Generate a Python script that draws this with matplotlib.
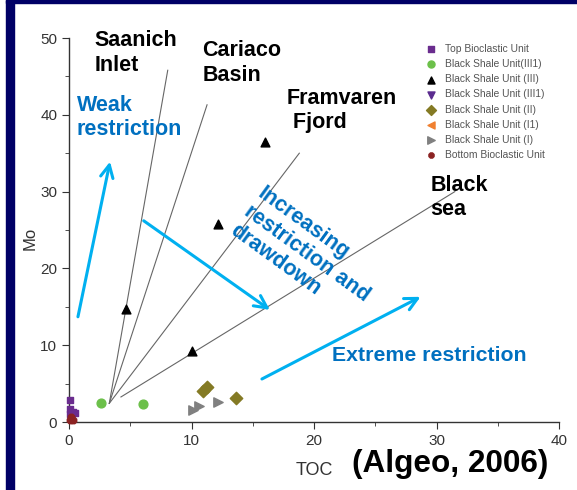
import matplotlib.pyplot as plt
from matplotlib.patches import Rectangle

plt.rcParams["font.family"] = ["Liberation Sans", "DejaVu Sans"]

# TOC (wt%) and Mo (ppm) by unit
top_bio_toc = [0.1, 0.1, 0.3, 0.5, 0.1]
top_bio_mo = [2.8, 1.7, 1.3, 1.2, 1.0]
bs_iii1_toc = [2.6, 6.0]
bs_iii1_mo = [2.5, 2.3]
bs_iii_toc = [4.65, 10.0, 12.2, 16.0]
bs_iii_mo = [14.7, 9.2, 25.8, 36.5]
bs_ii_toc = [10.9, 11.3, 13.6]
bs_ii_mo = [4.0, 4.6, 3.1]
bs_i_toc = [10.1, 10.6, 12.2]
bs_i_mo = [1.5, 2.1, 2.6]
bottom_bio_toc = [0.2, 0.3, 0.1]
bottom_bio_mo = [0.6, 0.2, 0.3]

# Mo/TOC reference trends for modern anoxic basins (start, end)
basin_names = ["Saanich\nInlet", "Cariaco\nBasin", "Framvaren\n Fjord", "Black\nsea"]
basin_x0 = [3.29, 3.29, 3.29, 4.24]
basin_y0 = [2.43, 2.43, 2.43, 3.26]
basin_x1 = [8.06, 11.27, 18.8, 31.5]
basin_y1 = [45.8, 41.3, 35.0, 30.0]
basin_label_x = [2.1, 10.9, 17.8, 29.5]
basin_label_y = [51.0, 49.7, 43.5, 32.2]

fig = plt.figure(figsize=(5.77, 4.90), dpi=100)
fig.patch.set_facecolor("white")
navy = "#000066"
fig.add_artist(Rectangle((6 / 577, 0), 8 / 577, 1, transform=fig.transFigure,
                         color=navy, zorder=0))
fig.add_artist(Rectangle((6 / 577, 487 / 490), 571 / 577, 3 / 490,
                         transform=fig.transFigure, color=navy, zorder=0))

ax = fig.add_axes([69 / 577, 68 / 490, 490 / 577, 384 / 490])
ax.set_xlim(0, 40)
ax.set_ylim(0, 50)
for s in ["top", "right"]:
    ax.spines[s].set_visible(False)
for s in ["left", "bottom"]:
    ax.spines[s].set_color("#333333")
    ax.spines[s].set_linewidth(1.0)
ax.set_xticks([0, 10, 20, 30, 40])
ax.set_xticks([5, 15, 25, 35], minor=True)
ax.set_yticks([0, 10, 20, 30, 40, 50])
ax.set_yticks([5, 15, 25, 35, 45], minor=True)
ax.tick_params(which="major", length=5, color="#333333", labelcolor="#333333",
               labelsize=11)
ax.tick_params(which="minor", length=3, color="#333333")
ax.set_xlabel("TOC", fontsize=13, color="#333333")
ax.xaxis.set_label_coords(0.5, -0.105)
ax.set_ylabel("Mo", fontsize=12, color="#333333")
ax.yaxis.set_label_coords(-0.065, 0.477)

for x0, y0, x1, y1 in zip(basin_x0, basin_y0, basin_x1, basin_y1):
    ax.plot([x0, x1], [y0, y1], color="#666666", lw=0.8, zorder=1)
for name, lx, ly in zip(basin_names, basin_label_x, basin_label_y):
    ax.text(lx, ly, name, fontsize=15.5, fontweight="bold", color="black",
            ha="left", va="top", linespacing=1.2, clip_on=False)

ax.scatter(top_bio_toc, top_bio_mo, marker="s", s=25, color="#6a2c8e",
           label="Top Bioclastic Unit", zorder=3, clip_on=False)
ax.scatter(bs_iii1_toc, bs_iii1_mo, marker="o", s=40, color="#6cc04a",
           label="Black Shale Unit(III1)", zorder=3)
ax.scatter(bs_iii_toc, bs_iii_mo, marker="^", s=40, color="black",
           label="Black Shale Unit (III)", zorder=3)
ax.scatter([], [], marker="v", s=40, color="#5b2c8f",
           label="Black Shale Unit (III1)")
ax.scatter(bs_ii_toc, bs_ii_mo, marker="D", s=40, color="#847a24",
           label="Black Shale Unit (II)", zorder=3)
ax.scatter([], [], marker="<", s=40, color="#f08030",
           label="Black Shale Unit (I1)")
ax.scatter(bs_i_toc, bs_i_mo, marker=">", s=45, color="#808080",
           label="Black Shale Unit (I)", zorder=3)
ax.scatter(bottom_bio_toc, bottom_bio_mo, marker="8", s=25, color="#8b2222",
           label="Bottom Bioclastic Unit", zorder=4, clip_on=False)

leg = ax.legend(loc="upper left", bbox_to_anchor=(0.709, 0.995), frameon=False,
                fontsize=7.4, handletextpad=0.4, labelspacing=0.5,
                markerscale=0.8, borderaxespad=0)
for t in leg.get_texts():
    t.set_color("#555555")

# interpretation arrows and labels
arrow_blue = "#00b0f0"
text_blue = "#0070c0"
arrows = [((0.73, 13.7), (3.35, 33.9)),
          ((6.1, 26.2), (16.4, 14.6)),
          ((15.75, 5.6), (28.7, 16.3))]
for tail, head in arrows:
    ax.annotate("", xy=head, xytext=tail,
                arrowprops=dict(arrowstyle="->,head_length=0.9,head_width=0.45",
                                color=arrow_blue, lw=2.2, shrinkA=0, shrinkB=0))

ax.text(0.65, 42.6, "Weak\nrestriction", fontsize=15.5, fontweight="bold",
        color=text_blue, ha="left", va="top", linespacing=1.2)
ax.text(19.4, 21.9, "Increasing\nrestriction and\ndrawdown", fontsize=15.5,
        fontweight="bold", color=text_blue, ha="center", va="center",
        rotation=-36, rotation_mode="anchor", linespacing=1.12,
        multialignment="left")
ax.text(21.5, 8.6, "Extreme restriction", fontsize=15.3, fontweight="bold",
        color=text_blue, ha="left", va="center")

fig.text(352 / 577, 1 - 464 / 490, "(Algeo, 2006)", fontsize=22.7,
         fontweight="bold", color="black", ha="left", va="center")

fig.savefig("out.png", dpi=100)
